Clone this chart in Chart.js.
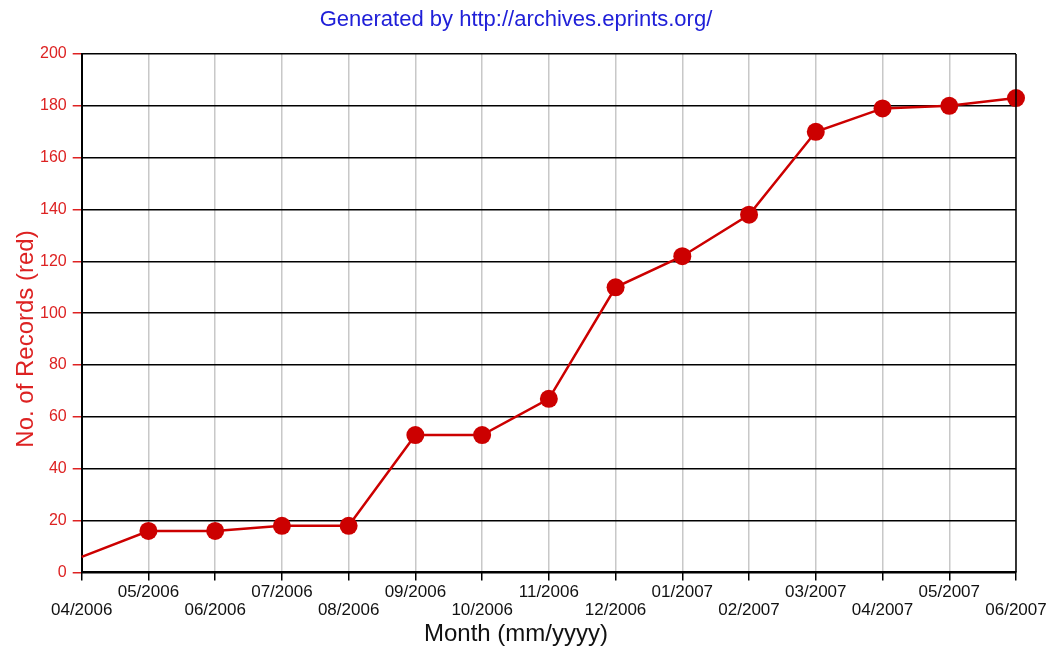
<!DOCTYPE html>
<html>
<head>
<meta charset="utf-8">
<script src="https://cdn.jsdelivr.net/npm/chart.js@4.4.1/dist/chart.umd.min.js"></script>
<style>
  html, body { margin: 0; padding: 0; background: #ffffff; }
  #wrap { width: 1047px; height: 649px; position: relative; }
</style>
</head>
<body>
<div id="wrap"><canvas id="c" width="1047" height="649"></canvas></div>
<script>
const months = ['04/2006','05/2006','06/2006','07/2006','08/2006','09/2006','10/2006','11/2006','12/2006','01/2007','02/2007','03/2007','04/2007','05/2007','06/2007'];
const records = [6, 16, 16, 18, 18, 53, 53, 67, 110, 122, 138, 170, 179, 180, 183];
const yTicks = { min: 0, max: 200, step: 20 };
const yTitle = 'No. of Records (red)';
const xTitle = 'Month (mm/yyyy)';
const topTitle = 'Generated by http://archives.eprints.org/';

const frame = {
  id: 'frame',
  afterDraw(chart) {
    const a = chart.chartArea, ctx = chart.ctx;
    ctx.save();
    ctx.strokeStyle = '#000';
    ctx.lineWidth = 1.5;
    ctx.beginPath();
    ctx.moveTo(a.right, a.top);
    ctx.lineTo(a.right, a.bottom);
    ctx.stroke();
    ctx.textAlign = 'center';
    ctx.textBaseline = 'middle';
    // top title
    ctx.fillStyle = '#2020d8';
    ctx.font = '22px "Liberation Sans"';
    ctx.fillText(topTitle, 516, 20);
    // x-axis title
    ctx.fillStyle = '#111';
    ctx.font = '24px "Liberation Sans"';
    ctx.fillText(xTitle, 516, 634);
    // y-axis title
    ctx.translate(26, 339);
    ctx.rotate(-Math.PI / 2);
    ctx.fillStyle = '#dd2222';
    ctx.font = '24px "Liberation Sans"';
    ctx.fillText(yTitle, 0, 0);
    ctx.restore();
  }
};

new Chart(document.getElementById('c'), {
  type: 'line',
  data: {
    labels: months,
    datasets: [{
      data: records,
      borderColor: '#cc0000',
      backgroundColor: '#cc0000',
      borderWidth: 2.5,
      pointRadius: (ctx) => ctx.dataIndex === 0 ? 0 : 9,
      pointBackgroundColor: '#cc0000',
      pointBorderWidth: 0,
      tension: 0,
      fill: false
    }]
  },
  options: {
    responsive: false,
    animation: false,
    layout: { padding: { left: 34, right: 0, top: 54, bottom: 26.5 } },
    plugins: {
      legend: { display: false },
      tooltip: { enabled: false },
      title: { display: false }
    },
    scales: {
      x: {
        offset: false,
        afterFit: (s) => { s.paddingRight = 31; },
        grid: { color: '#c8c8c8', lineWidth: 1.5, tickColor: '#000', tickLength: 8, drawOnChartArea: true },
        border: { color: '#000', width: 2 },
        ticks: {
          autoSkip: false, maxRotation: 0, minRotation: 0,
          color: '#111',
          padding: 3,
          font: { family: 'Liberation Sans', size: 17, lineHeight: 1.06 },
          callback: function(v, i) { const l = this.getLabelForValue(v); return i % 2 === 0 ? ['', l] : [l, '']; }
        }
      },
      y: {
        min: yTicks.min, max: yTicks.max,
        afterFit: (s) => { s.paddingTop = 0; },
        grid: { color: '#000', lineWidth: 1.5, tickColor: '#dd2222', tickLength: 9 },
        border: { color: '#000', width: 2 },
        ticks: {
          stepSize: yTicks.step,
          color: '#dd2222',
          padding: 6,
          font: { family: 'Liberation Sans', size: 16 }
        },
        title: { display: false }
      }
    }
  },
  plugins: [frame]
});
</script>
</body>
</html>
